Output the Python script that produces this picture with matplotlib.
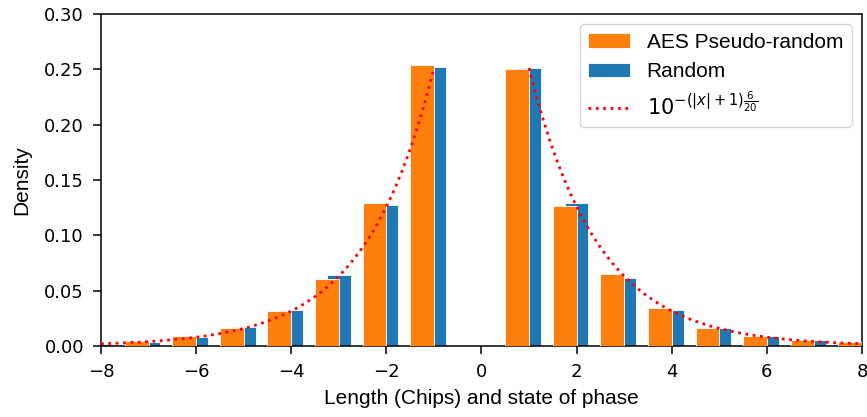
import numpy as np
import matplotlib
matplotlib.use("Agg")
import matplotlib.pyplot as plt

# ---- Data -------------------------------------------------------------------
lengths = [-8, -7, -6, -5, -4, -3, -2, -1, 1, 2, 3, 4, 5, 6, 7, 8]
aes_density = [0.0, 0.0045, 0.0093, 0.0160, 0.0313, 0.0608, 0.1293, 0.2536,
               0.2506, 0.1265, 0.0650, 0.0340, 0.0160, 0.0093, 0.0054, 0.0039]
rand_density = [0.0018, 0.0039, 0.0078, 0.0175, 0.0325, 0.0639, 0.1277, 0.2524,
                0.2510, 0.1295, 0.0611, 0.0325, 0.0160, 0.0093, 0.0054, 0.0030]

ORANGE = "#ff7f0e"
BLUE = "#1f77b4"
LABEL_FONT = "Liberation Sans"

# ---- Figure -----------------------------------------------------------------
fig = plt.figure(figsize=(8.67, 4.17), dpi=100)
ax = fig.add_axes([0.1165, 0.1703, 0.9942 - 0.1165, 0.9664 - 0.1703])

x = np.array(lengths, dtype=float)
# blue drawn first, orange overlaps its left half
b_rand = ax.bar(x, rand_density, width=0.5, color=BLUE,
                edgecolor="white", linewidth=0.6, zorder=2)
b_aes = ax.bar(x - 0.25, aes_density, width=0.5, color=ORANGE,
               edgecolor="white", linewidth=0.6, zorder=3)

# reference curve 10^(-(|x|+1)*6/20)
xl = np.linspace(-8, -1, 200)
xr = np.linspace(1, 8, 200)
(curve,) = ax.plot(xl, 10 ** (-(np.abs(xl) + 1) * 6 / 20), "r:", lw=2, zorder=4)
ax.plot(xr, 10 ** (-(np.abs(xr) + 1) * 6 / 20), "r:", lw=2, zorder=4)

ax.set_xlim(-8, 8)
ax.set_ylim(0, 0.30)
ax.set_yticks(np.arange(0, 0.301, 0.05))
ax.tick_params(labelsize=13, length=5.8, width=1.1, pad=6.5)
for sp in ax.spines.values():
    sp.set_linewidth(1.1)

ax.set_xlabel("Length (Chips) and state of phase", fontsize=15,
              family=LABEL_FONT, labelpad=6)
ax.set_ylabel("Density", fontsize=15, family=LABEL_FONT, labelpad=9)

leg = ax.legend([b_aes, b_rand, curve],
                ["AES Pseudo-random", "Random", r"$10^{-(|x|+1)\frac{6}{20}}$"],
                loc="upper right", prop={"family": LABEL_FONT, "size": 15})

fig.savefig("out.png", dpi=100, facecolor="white")
